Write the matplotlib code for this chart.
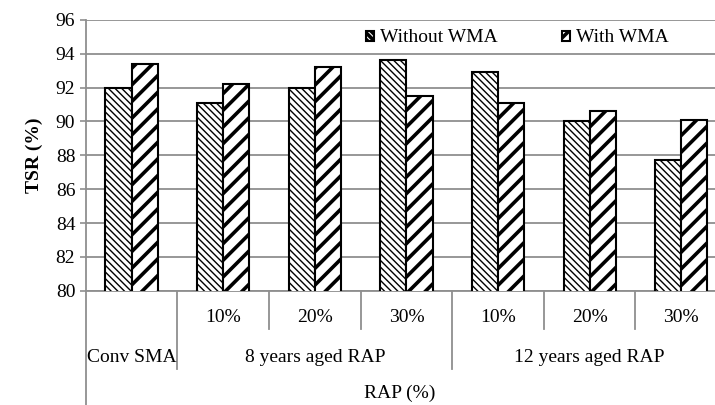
import numpy as np
import matplotlib
matplotlib.use("Agg")
import matplotlib.pyplot as plt
import matplotlib.transforms as mtransforms

plt.rcParams["font.family"] = ["Liberation Serif", "DejaVu Serif"]

# =========================
# DATA
# =========================
level1_labels = ["", "10%", "20%", "30%", "10%", "20%", "30%"]
groups = ["Conv SMA", "8 years aged RAP", "12 years aged RAP"]
group_spans = [(0, 0), (1, 3), (4, 6)]

without_wma = [92.0, 91.1, 92.0, 93.6, 92.9, 90.0, 87.7]
with_wma = [93.4, 92.2, 93.2, 91.5, 91.1, 90.6, 90.1]

# =========================
# FIGURE
# =========================
fig = plt.figure(figsize=(7.15, 4.05), dpi=100)
ax = fig.add_axes([0.1199, 0.282, 0.897, 0.669])

x = np.arange(len(without_wma))
w = 0.285
grid_col = "#8f8f8f"
fs = 14

plt.rcParams["hatch.linewidth"] = 1.0
b1 = ax.bar(x - w / 2, without_wma, w, color="white",
            edgecolor="black", linewidth=1.5, hatch="\\" * 5,
            label="Without WMA", zorder=3)
plt.rcParams["hatch.linewidth"] = 2.6
b2 = ax.bar(x + w / 2, with_wma, w, color="white",
            edgecolor="black", linewidth=1.5, hatch="//",
            label="With WMA", zorder=3)
for p in b1:
    if hasattr(p, "set_hatch_linewidth"):
        p.set_hatch_linewidth(1.0)
for p in b2:
    if hasattr(p, "set_hatch_linewidth"):
        p.set_hatch_linewidth(2.6)

ax.set_ylim(80, 96)
ax.set_xlim(-0.5, len(x) - 0.5)
ax.set_yticks(np.arange(80, 97, 2))
ax.tick_params(axis="y", labelsize=fs, length=4, color=grid_col, width=1.2)
ax.tick_params(axis="x", length=0, labelbottom=False)
ax.yaxis.grid(True, color=grid_col, linewidth=1.3, zorder=0)
ax.set_axisbelow(True)
for s in ["top", "right"]:
    ax.spines[s].set_visible(False)
for s in ["left", "bottom"]:
    ax.spines[s].set_color(grid_col)
    ax.spines[s].set_linewidth(1.3)

ax.set_ylabel("TSR (%)", fontsize=fs, fontweight="bold", labelpad=9)

# legend
leg = fig.legend(handles=[b1, b2], loc="center left",
                 bbox_to_anchor=(366 / 715, 1 - 38 / 405), ncol=2,
                 frameon=False, fontsize=fs, handlelength=0.42,
                 handleheight=0.42, handletextpad=0.3, columnspacing=3.3,
                 borderpad=0, borderaxespad=0)

# =========================
# MULTI-LEVEL X AXIS
# =========================
trans = mtransforms.blended_transform_factory(ax.transData, fig.transFigure)
y_axis = 0.282
y_short = 1 - 329 / 405
y_long = 1 - 369 / 405

for i, lab in enumerate(level1_labels):
    if lab:
        ax.text(i, 1 - 318 / 405, lab, transform=trans, ha="center",
                va="center", fontsize=fs)

for gi, (a, b) in enumerate(group_spans):
    ax.text((a + b) / 2, 1 - 358 / 405, groups[gi], transform=trans,
            ha="center", va="center", fontsize=fs)

for i in range(1, len(x)):
    bound = i - 0.5
    is_group = any(bound == a - 0.5 for a, b in group_spans)
    y_end = y_long if is_group else y_short
    ax.plot([bound, bound], [y_axis, y_end], transform=trans,
            color=grid_col, linewidth=1.3, clip_on=False)

# left axis line down to the bottom
ax.plot([-0.5, -0.5], [0, y_axis], transform=trans, color=grid_col,
        linewidth=1.3, clip_on=False)

fig.text(400 / 715, 1 - 393 / 405, "RAP (%)", ha="center", va="center",
         fontsize=fs)

plt.savefig("out.png", dpi=100)
plt.close()
